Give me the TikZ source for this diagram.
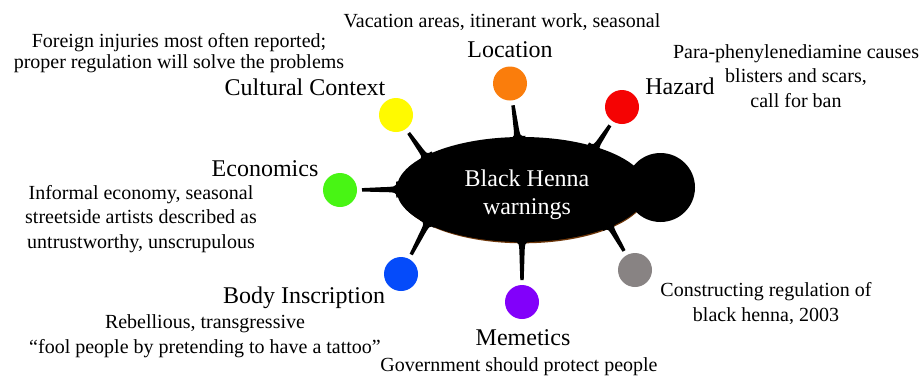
\documentclass[tikz,border=0pt]{standalone}
\usepackage{fontspec}
\setmainfont{Liberation Serif}
\usetikzlibrary{shapes.geometric,calc}
\definecolor{cyel}{RGB}{255,250,0}
\definecolor{corg}{RGB}{250,125,12}
\definecolor{cred}{RGB}{245,3,3}
\definecolor{cgrn}{RGB}{72,245,20}
\definecolor{cblu}{RGB}{5,75,250}
\definecolor{cpur}{RGB}{130,0,250}
\definecolor{cgry}{RGB}{136,131,131}
\definecolor{cshadow}{RGB}{110,55,10}
\newcommand\henspike[2]{%
  \coordinate (spB) at (hub.#2);
  \coordinate (spS) at ($(#1.center)!22pt!(spB)$);
  \coordinate (spM) at ($(spS)!0.55!(spB)$);
  \coordinate (spE) at ($(spB)!-12pt!(spS)$);
  \fill ($(spS)!1.7pt!90:(spB)$) -- ($(spM)!2.4pt!90:(spB)$)
    .. controls ($(spB)!2.8pt!-90:(spS)$) .. ($(spB)!8pt!-90:(spS)$)
    -- ($(spE)!8pt!-90:(spS)$) -- ($(spE)!8pt!90:(spS)$)
    -- ($(spB)!8pt!90:(spS)$)
    .. controls ($(spB)!2.8pt!90:(spS)$) .. ($(spM)!2.4pt!-90:(spB)$)
    -- ($(spS)!1.7pt!-90:(spB)$) -- cycle;
}
\begin{document}
\begin{tikzpicture}[x=1pt,y=-1pt,
  dot/.style={circle,minimum size=34pt,inner sep=0pt,fill=#1},
  title/.style={font=\fontsize{24}{28}\selectfont,inner sep=0pt,anchor=base},
  desc/.style={font=\fontsize{20}{24.5}\selectfont,inner sep=0pt,anchor=base,align=center},
]
\useasboundingbox[fill=white] (0,0) rectangle (921,376);
% hub
\node[ellipse,fill=cshadow,minimum width=249pt,minimum height=105pt,inner sep=0pt] (shadow) at (523,190.8) {};
\node[ellipse,fill=black,minimum width=251pt,minimum height=105pt,inner sep=0pt] (hub) at (522,189.5) {};
\node[circle,fill=black,minimum size=69pt,inner sep=0pt] (knob) at (660.5,187.5) {};
% circles
\node[dot=corg] (loc) at (510,83.5) {};
\node[dot=cyel] (cul) at (396,115) {};
\node[dot=cred] (haz) at (622,107) {};
\node[dot=cgrn] (eco) at (340,190) {};
\node[dot=cblu] (bod) at (401,274) {};
\node[dot=cpur] (mem) at (522,302) {};
\node[dot=cgry] (con) at (635,270) {};
% spikes
\henspike{loc}{95}
\henspike{cul}{161.5}
\henspike{haz}{30.2}
\henspike{eco}{180}
\henspike{bod}{200.7}
\henspike{mem}{270}
\henspike{con}{337.9}
% centre text
\node[title,align=center,text=white] (htext) at (527,214) {Black Henna\\warnings};
% titles
\node[title] (tloc) at (510,57) {Location};
\node[title] (tcul) at (305,95) {Cultural Context};
\node[title] (thaz) at (680,94) {Hazard};
\node[title] (teco) at (265,176) {Economics};
\node[title] (tbod) at (304,303) {Body Inscription};
\node[title] (tmem) at (523,345) {Memetics};
% descriptions
\node[desc] (dloc) at (502,27) {Vacation areas, itinerant work, seasonal};
\node[desc,font=\fontsize{20}{21.5}\selectfont] (dcul) at (179,68.5) {Foreign injuries most often reported;\\proper regulation will solve the problems};
\node[desc] (dhaz) at (796,107) {Para-phenylenediamine causes\\blisters and scars,\\call for ban};
\node[desc] (deco) at (141,248) {Informal economy, seasonal\\streetside artists described as\\untrustworthy, unscrupulous};
\node[desc] (dbod) at (205,353) {Rebellious, transgressive\\“fool people by pretending to have a tattoo”};
\node[desc] (dmem) at (519,371) {Government should protect people};
\node[desc] (dcon) at (766,321) {Constructing regulation of\\black henna, 2003};
\end{tikzpicture}
\end{document}
